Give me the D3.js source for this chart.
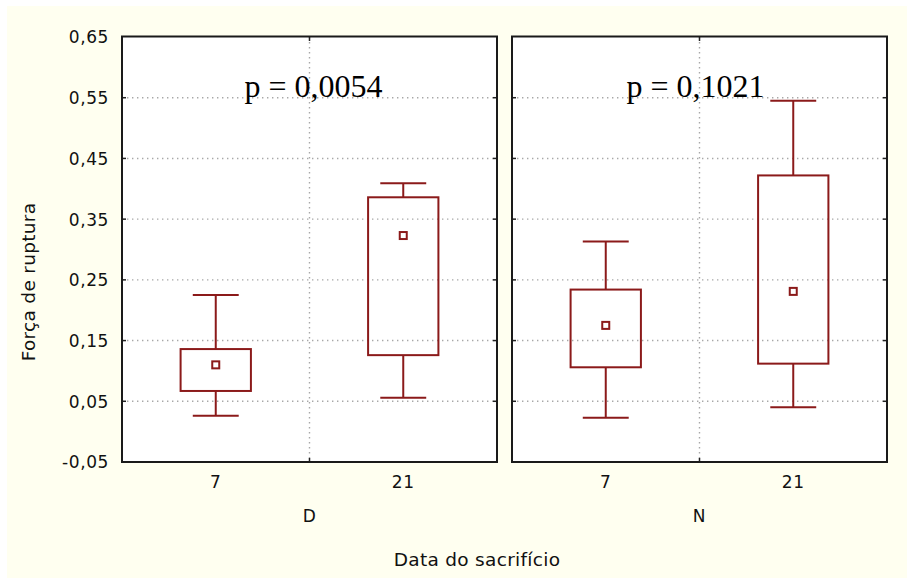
<!DOCTYPE html>
<html>
<head>
<meta charset="utf-8">
<script src="https://cdn.jsdelivr.net/npm/d3@7"></script>
<style>
  html, body { margin: 0; padding: 0; background: #ffffff; }
  svg { display: block; }
  .sans { font-family: "DejaVu Sans", Verdana, sans-serif; fill: #111; }
  .serif { font-family: "Liberation Serif", "Times New Roman", serif; fill: #000; }
</style>
</head>
<body>
<svg id="chart" width="907" height="578"></svg>
<script>
// Groups (panels) and sacrifice days (categories inside each panel)
const groups = ["D", "N"];
const days = ["7", "21"];
const pValues = ["0,0054", "0,1021"];

// Per group, one entry per day
const means   = [[0.110, 0.323], [0.175, 0.231]];
const boxLow  = [[0.067, 0.126], [0.106, 0.112]];
const boxHigh = [[0.136, 0.386], [0.234, 0.422]];
const whiskLow  = [[0.026, 0.056], [0.023, 0.040]];
const whiskHigh = [[0.225, 0.409], [0.313, 0.545]];

const yTicks = [-0.05, 0.05, 0.15, 0.25, 0.35, 0.45, 0.55, 0.65];

const svg = d3.select("#chart");
const W = 907, H = 578;

// page background
svg.append("rect").attr("x", 7).attr("y", 6).attr("width", W - 7).attr("height", H - 6)
  .attr("fill", "#fffff0");

const plotTop = 37, plotBottom = 462;
const panelX = [[122, 497], [512, 887]];
const boxColor = "#8b1a1a";

const y = d3.scaleLinear().domain([-0.05, 0.65]).range([plotBottom, plotTop]);
const fmt = v => d3.format(".2f")(v).replace(".", ",").replace("\u2212", "-");

// y axis labels (left only)
const yAxis = d3.axisLeft(y).tickValues(yTicks).tickSize(0).tickPadding(13).tickFormat(fmt);
const ya = svg.append("g").attr("transform", `translate(${panelX[0][0]},0)`).call(yAxis);
ya.select(".domain").remove();
ya.selectAll("text").attr("class", "sans").attr("font-size", 17).attr("letter-spacing", 0.6)
  .attr("font-family", null).attr("dy", "0.35em");
ya.attr("font-family", null).attr("font-size", null);

groups.forEach((g, gi) => {
  const [x0, x1] = panelX[gi];
  const x = d3.scaleBand().domain(days).range([x0, x1]);
  const bw = x.bandwidth();
  const panel = svg.append("g");

  panel.append("rect").attr("x", x0).attr("y", plotTop).attr("width", x1 - x0).attr("height", plotBottom - plotTop)
    .attr("fill", "#ffffff");

  // dotted grid
  const grid = panel.append("g").attr("stroke", "#a8a8a8").attr("stroke-width", 1.4)
    .attr("stroke-dasharray", "1.4,3.6");
  yTicks.slice(1, -1).forEach(t => {
    grid.append("line").attr("x1", x0).attr("x2", x1).attr("y1", y(t)).attr("y2", y(t));
  });
  const mid = x0 + bw;
  grid.append("line").attr("x1", mid).attr("x2", mid).attr("y1", plotTop).attr("y2", plotBottom);

  // inner ticks on frame
  const ticks = panel.append("g").attr("stroke", "#222").attr("stroke-width", 1.5);
  yTicks.slice(1, -1).forEach(t => {
    ticks.append("line").attr("x1", x0).attr("x2", x0 + 4).attr("y1", y(t)).attr("y2", y(t));
    ticks.append("line").attr("x1", x1 - 4).attr("x2", x1).attr("y1", y(t)).attr("y2", y(t));
  });
  ticks.append("line").attr("x1", mid).attr("x2", mid).attr("y1", plotTop).attr("y2", plotTop + 4);
  ticks.append("line").attr("x1", mid).attr("x2", mid).attr("y1", plotBottom - 4).attr("y2", plotBottom);

  // boxes and whiskers
  days.forEach((d, di) => {
    const cx = x(d) + bw / 2;
    const boxW = bw * 0.375, capW = bw * 0.245;
    const gB = panel.append("g").attr("stroke", boxColor).attr("stroke-width", 2).attr("fill", "none");
    gB.append("line").attr("x1", cx).attr("x2", cx)
      .attr("y1", y(whiskHigh[gi][di])).attr("y2", y(boxHigh[gi][di]));
    gB.append("line").attr("x1", cx).attr("x2", cx)
      .attr("y1", y(boxLow[gi][di])).attr("y2", y(whiskLow[gi][di]));
    gB.append("line").attr("x1", cx - capW / 2).attr("x2", cx + capW / 2)
      .attr("y1", y(whiskHigh[gi][di])).attr("y2", y(whiskHigh[gi][di]));
    gB.append("line").attr("x1", cx - capW / 2).attr("x2", cx + capW / 2)
      .attr("y1", y(whiskLow[gi][di])).attr("y2", y(whiskLow[gi][di]));
    gB.append("rect").attr("x", cx - boxW / 2).attr("y", y(boxHigh[gi][di]))
      .attr("width", boxW).attr("height", y(boxLow[gi][di]) - y(boxHigh[gi][di]));
    gB.append("rect").attr("x", cx - 3.5).attr("y", y(means[gi][di]) - 3.5)
      .attr("width", 7).attr("height", 7).attr("fill", "#ffffff");

    // category label
    svg.append("text").attr("class", "sans").attr("font-size", 17).attr("letter-spacing", 0.6)
      .attr("x", cx).attr("y", 488).attr("text-anchor", "middle").text(d);
  });

  // frame
  panel.append("rect").attr("x", x0).attr("y", plotTop - 0.5).attr("width", x1 - x0).attr("height", plotBottom - plotTop + 0.5)
    .attr("fill", "none").attr("stroke", "#1a1a1a").attr("stroke-width", 2);

  // p-value annotation
  svg.append("text").attr("class", "serif").attr("font-size", 32)
    .attr("x", (x0 + x1) / 2 + (gi === 0 ? 4 : -4)).attr("y", 97).attr("text-anchor", "middle")
    .text("p = " + pValues[gi]);

  // group label
  svg.append("text").attr("class", "sans").attr("font-size", 17).attr("letter-spacing", 0.6)
    .attr("x", (x0 + x1) / 2).attr("y", 522).attr("text-anchor", "middle").text(g);
});

// axis titles
svg.append("text").attr("class", "sans").attr("font-size", 18.5).attr("letter-spacing", 0.3)
  .attr("x", 477).attr("y", 566).attr("text-anchor", "middle").text("Data do sacrifício");
svg.append("text").attr("class", "sans").attr("font-size", 18.5).attr("letter-spacing", 0.3)
  .attr("transform", "translate(35,282) rotate(-90)").attr("text-anchor", "middle").text("Força de ruptura");
</script>
</body>
</html>
